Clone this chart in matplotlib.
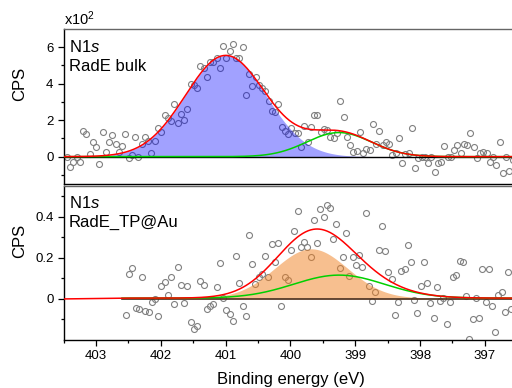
import numpy as np
import matplotlib
matplotlib.use('Agg')
import matplotlib.pyplot as plt
from matplotlib.ticker import MultipleLocator, FixedLocator

plt.rcParams['font.family'] = ['Liberation Sans', 'DejaVu Sans']
plt.rcParams['mathtext.fontset'] = 'custom'
plt.rcParams['mathtext.rm'] = 'Liberation Sans'
plt.rcParams['mathtext.it'] = 'Liberation Sans:italic'

# ---- RadE bulk (top), counts in units of 1e2 CPS ----
bulk_start, bulk_end = 403.45, 396.57      # first / last measured energy
bulk_cps = [
    0.0, -0.55, -0.27, -0.04, -0.27, 1.43, 1.25, 0.15, 0.82, 0.55,
    -0.40, 1.34, 0.27, 0.79, 1.19, 0.70, 0.27, 0.60, 1.25, -0.05,
    0.09, 1.06, -0.04, 0.70, 1.06, 0.88, 0.18, 0.88, 1.56, 1.37,
    2.29, 2.10, 1.98, 2.87, 1.83, 2.34, 2.01, 2.63,
    3.97, 3.93, 3.75, 4.99, 4.88, 4.39, 5.18, 5.18, 5.40, 4.85,
    6.09, 5.40, 5.80, 6.16, 5.43, 5.43, 6.03, 3.38, 4.52, 3.88,
    4.39, 3.93, 3.75, 3.62, 3.06, 2.51, 2.47, 2.87,
    1.65, 1.43, 1.25, 1.56, 1.32, 1.28, 0.55, 1.68, 0.82, 1.61,
    2.27, 2.27, 1.37, 1.50, 1.46, 1.10, 1.01, 1.32, 3.07, 2.19,
    1.10, 0.64, 0.27, 0.33, 1.37, 0.22, 0.42, 0.37, 1.79, 0.70,
    1.43, 0.64, 0.82, 0.70, 0.09, 0.18, 1.01, -0.36, 0.15, 0.22,
    1.56, -0.60, -0.09, 0.0, 0.0, -0.33, 0.0, -0.82, -0.36, -0.31,
    0.60, 0.0, 0.0, 0.37, 0.64, 0.22, 0.68, 0.64, 1.32, 0.55,
    -0.09, 0.22, 0.27, 0.22, -0.27, 0.0, -0.46, 0.82, -0.91, 0.0,
    -0.77, -0.18,
]
# fitted peaks: main component (filled) and second component (green)
bulk_centers = [401.0, 399.25]
bulk_heights = [5.55, 1.32]
bulk_sigmas = [0.62, 0.50]

# ---- RadE_TP@Au (bottom) ----
tp_start, tp_end = 402.54, 396.59
tp_cps = [
    -0.078, 0.121, 0.153, -0.045, -0.048, 0.109, -0.057, -0.065, -0.013, 0.002,
    -0.081, 0.064, 0.080, 0.019, 0.105, -0.024, 0.156, 0.069, -0.021, 0.061,
    -0.110, -0.145, -0.132, 0.089, 0.068, -0.048, -0.032, -0.027, 0.056, 0.176,
    0.005, -0.052, -0.073, -0.107, 0.210, 0.077, -0.032, -0.081, 0.310, 0.169,
    0.072, 0.105, 0.121, 0.210, 0.105, 0.266, 0.181, 0.274, -0.032, 0.108,
    0.093, 0.239, 0.331, 0.426, 0.253, 0.277, 0.253, 0.202, 0.384, 0.274,
    0.436, 0.399, 0.455, 0.444, 0.294, 0.363, 0.153, 0.202, 0.323, 0.113,
    0.206, 0.166, 0.213, 0.156, 0.416, 0.064, -0.012, 0.032, 0.237, 0.355,
    0.234, 0.132, 0.097, -0.076, -0.013, 0.137, 0.148, 0.261, 0.182, -0.005,
    -0.068, 0.064, 0.181, 0.076, -0.019, -0.092, 0.056, -0.012, 0.003, -0.121,
    -0.013, 0.109, 0.116, 0.185, 0.182, 0.016, -0.194, -0.097, 0.003, -0.092,
    0.145, -0.016, 0.148, -0.032, -0.162, 0.021, 0.035, -0.062, 0.132, -0.048,
]
tp_centers = [399.68, 399.25]
tp_heights = [0.24, 0.112]
tp_sigmas = [0.56, 0.70]
tp_fit_start = 402.6
tp_offset = 0.004

xmin, xmax = 403.5, 396.5


def gauss(x, c, h, s):
    return h * np.exp(-(x - c) ** 2 / (2 * s ** 2))


fig = plt.figure(figsize=(5.12, 3.88), dpi=100)
ax1 = fig.add_axes([0.1243, 0.5258, 0.886, 0.3995])
ax2 = fig.add_axes([0.1243, 0.1237, 0.886, 0.397])

grey = '#808080'
green = '#00d000'

# top panel
xb = np.linspace(bulk_start, bulk_end, len(bulk_cps))
xf = np.linspace(xmin, xmax, 600)
b1 = gauss(xf, bulk_centers[0], bulk_heights[0], bulk_sigmas[0])
b2 = gauss(xf, bulk_centers[1], bulk_heights[1], bulk_sigmas[1])
ax1.plot(xb, bulk_cps, 'o', ms=4.3, mfc='none', mec=grey, mew=0.8, zorder=2)
ax1.fill_between(xf, 0, b1, color='blue', alpha=0.37, lw=0, zorder=3)
ax1.axhline(0, color='black', lw=1.0, zorder=4)
ax1.plot(xf, b2, color=green, lw=1.1, zorder=5)
ax1.plot(xf, b1 + b2, color='red', lw=1.1, zorder=6)

ax1.set_xlim(xmin, xmax)
ax1.set_ylim(-1.5, 7)
ax1.yaxis.set_major_locator(FixedLocator([0, 2, 4, 6]))
ax1.yaxis.set_minor_locator(FixedLocator([-1, 1, 3, 5]))
ax1.tick_params(axis='x', which='both', bottom=False, labelbottom=False)
ax1.text(0.0, 1.005, 'x10$^2$', transform=ax1.transAxes, fontsize=10.5,
         va='bottom', ha='left')
ax1.text(0.012, 0.853, 'N1$\\mathit{s}$', transform=ax1.transAxes, fontsize=12)
ax1.text(0.012, 0.731, 'RadE bulk', transform=ax1.transAxes, fontsize=12)
ax1.set_ylabel('CPS', fontsize=12)
ax1.yaxis.set_label_coords(-0.081, 0.645)

# bottom panel
xt = np.linspace(tp_start, tp_end, len(tp_cps))
xg = np.linspace(tp_fit_start, xmax, 600)
t1 = gauss(xg, tp_centers[0], tp_heights[0], tp_sigmas[0])
t2 = gauss(xg, tp_centers[1], tp_heights[1], tp_sigmas[1])
ax2.plot(xt, tp_cps, 'o', ms=4.3, mfc='none', mec=grey, mew=0.8, zorder=2)
ax2.fill_between(xg, 0, t1 + tp_offset, color='#f08020', alpha=0.5, lw=0, zorder=3)
ax2.plot([tp_fit_start, xmax], [0, 0], color='#4a3020', lw=1.2, zorder=4)
ax2.plot(xg, t2 + tp_offset, color=green, lw=1.1, zorder=5)
ax2.plot(np.r_[xmin, xg], np.r_[0, t1 + t2 + tp_offset], color='red', lw=1.1,
         zorder=6, drawstyle='default')

ax2.set_xlim(xmin, xmax)
ax2.set_ylim(-0.2, 0.55)
ax2.yaxis.set_major_locator(FixedLocator([0, 0.2, 0.4]))
ax2.yaxis.set_minor_locator(FixedLocator([-0.1, 0.1, 0.3, 0.5]))
ax2.set_yticklabels(['0', '0.2', '0.4'])
ax2.xaxis.set_major_locator(MultipleLocator(1))
ax2.xaxis.set_minor_locator(MultipleLocator(0.5))
ax2.text(0.012, 0.859, 'N1$\\mathit{s}$', transform=ax2.transAxes, fontsize=12)
ax2.text(0.012, 0.736, 'RadE_TP@Au', transform=ax2.transAxes, fontsize=12)
ax2.set_ylabel('CPS', fontsize=12)
ax2.yaxis.set_label_coords(-0.081, 0.643)
ax2.set_xlabel('Binding energy (eV)', fontsize=12)
ax2.xaxis.set_label_coords(0.5, -0.205)

for ax in (ax1, ax2):
    ax.tick_params(which='major', direction='out', length=4.3, width=0.9,
                   labelsize=9.5, pad=3)
    ax.tick_params(which='minor', direction='out', length=2.3, width=0.9)
    ax.tick_params(axis='y', which='both', right=False)
    ax.tick_params(axis='x', which='both', top=False)
    for s in ax.spines.values():
        s.set_linewidth(1.0)
    ax.spines['top'].set_color('#666666')

fig.savefig('out.png', dpi=100)
